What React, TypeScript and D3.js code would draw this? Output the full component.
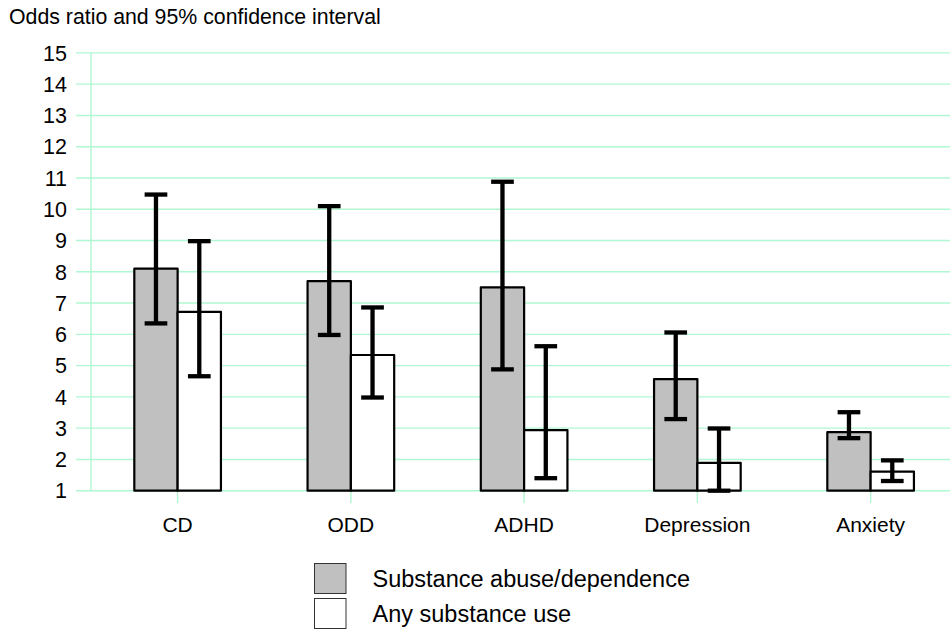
import React from "react";
import * as d3 from "d3";

const categories = ["CD", "ODD", "ADHD", "Depression", "Anxiety"];
const seriesNames = ["Substance abuse/dependence", "Any substance use"];
const abuseOR = [8.1, 7.7, 7.5, 4.57, 2.87];
const abuseLow = [6.35, 5.98, 4.88, 3.29, 2.68];
const abuseHigh = [10.47, 10.1, 10.88, 6.06, 3.51];
const useOR = [6.72, 5.34, 2.94, 1.89, 1.61];
const useLow = [4.66, 3.98, 1.4, 1.0, 1.31];
const useHigh = [8.98, 6.86, 5.62, 2.99, 1.97];
const yTicks = [1, 2, 3, 4, 5, 6, 7, 8, 9, 10, 11, 12, 13, 14, 15];
const title = "Odds ratio and 95% confidence interval";

const W = 950;
const H = 634;
const FONT = "'Liberation Sans', Arial, sans-serif";
const GRID = "#b0f7d2";
const fills = ["#c0c0c0", "#ffffff"];

export default function App() {
  const x = d3.scaleBand<string>().domain(categories).range([91, 957.25]).padding(0);
  const bw = x.bandwidth();
  const x1 = d3.scaleBand<string>().domain(seriesNames).range([bw / 4, (3 * bw) / 4]).padding(0);
  const y = d3.scaleLinear().domain([1, 15]).range([490.7, 52.9]);

  const series = [
    { name: seriesNames[0], v: abuseOR, lo: abuseLow, hi: abuseHigh },
    { name: seriesNames[1], v: useOR, lo: useLow, hi: useHigh },
  ];
  const capW = 22.7;
  const legendY = [563.5, 598.5];
  const legendH = 30;

  return (
    <svg
      width={W}
      height={H}
      style={{ position: "absolute", left: 0, top: 0, background: "#fff" }}
      fontFamily={FONT}
    >
      <rect x={0} y={0} width={W} height={H} fill="#fff" />
      <text x={9} y={23.5} fontSize={21.3} fill="#000">{title}</text>

      {/* gridlines */}
      {yTicks.map((t) => (
        <line key={"g" + t} x1={76} x2={W} y1={y(t)} y2={y(t)} stroke={GRID} strokeWidth={1.4} />
      ))}
      {/* y axis */}
      <line x1={91} x2={91} y1={y(15)} y2={y(1)} stroke={GRID} strokeWidth={1.4} />
      {/* category ticks */}
      {categories.map((c) => (
        <line key={"t" + c} x1={x(c)! + bw / 2} x2={x(c)! + bw / 2} y1={y(1)} y2={y(1) + 12.5} stroke={GRID} strokeWidth={1.4} />
      ))}
      {/* y tick labels */}
      {yTicks.map((t) => (
        <text key={"l" + t} x={67} y={y(t)} dy="0.36em" textAnchor="end" fontSize={21.5} fill="#000">
          {t}
        </text>
      ))}
      {/* x labels */}
      {categories.map((c) => (
        <text key={"x" + c} x={x(c)! + bw / 2} y={531.5} textAnchor="middle" fontSize={21} fill="#000">
          {c}
        </text>
      ))}

      {/* bars */}
      {series.map((s, si) =>
        categories.map((c, i) => {
          const bx = x(c)! + x1(s.name)!;
          return (
            <rect
              key={"b" + si + c}
              x={bx}
              y={y(s.v[i])}
              width={x1.bandwidth()}
              height={y(1) - y(s.v[i])}
              fill={fills[si]}
              stroke="#000"
              strokeWidth={2.2}
              strokeLinejoin="round"
            />
          );
        })
      )}
      {/* error bars */}
      {series.map((s, si) =>
        categories.map((c, i) => {
          const cx = x(c)! + x1(s.name)! + x1.bandwidth() / 2;
          return (
            <g key={"e" + si + c} stroke="#000" strokeWidth={4.3}>
              <line x1={cx} x2={cx} y1={y(s.hi[i])} y2={y(s.lo[i])} />
              <line x1={cx - capW / 2} x2={cx + capW / 2} y1={y(s.hi[i])} y2={y(s.hi[i])} />
              <line x1={cx - capW / 2} x2={cx + capW / 2} y1={y(s.lo[i])} y2={y(s.lo[i])} />
            </g>
          );
        })
      )}

      {/* legend */}
      {seriesNames.map((n, i) => (
        <g key={"lg" + n}>
          <rect x={314.5} y={legendY[i]} width={31.5} height={legendH} fill={fills[i]} stroke="#333" strokeWidth={1} />
          <text x={372.5} y={legendY[i] + legendH / 2} dy="0.35em" fontSize={23.5} fill="#000">
            {n}
          </text>
        </g>
      ))}
    </svg>
  );
}
